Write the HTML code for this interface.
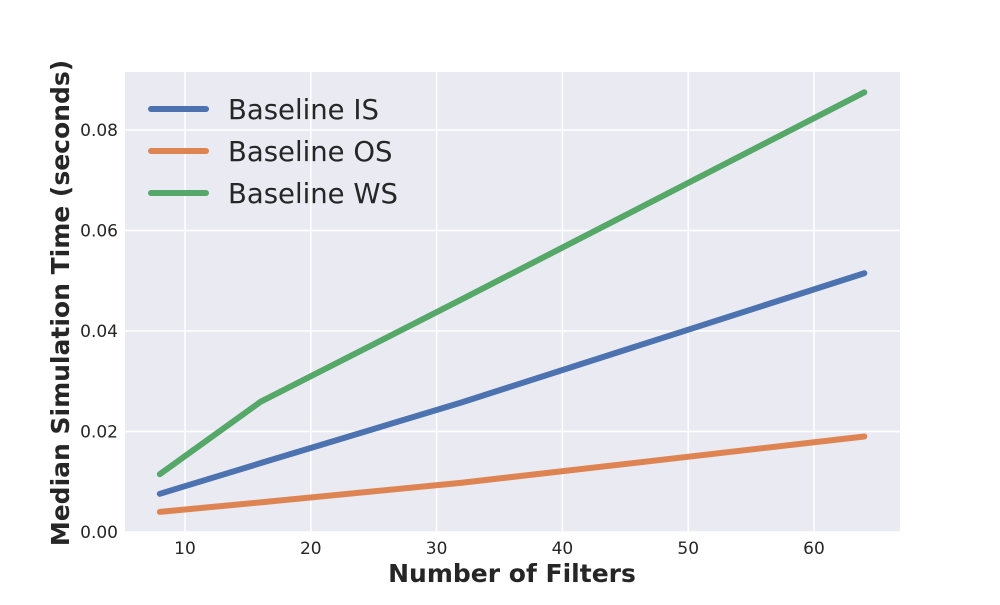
<!DOCTYPE html>
<html><head><meta charset="utf-8"><style>
body{margin:0;background:#fff;font-family:"Liberation Sans","DejaVu Sans",sans-serif}
</style></head><body>
<svg width="1000" height="600" id="c" font-family="DejaVu Sans, Liberation Sans, sans-serif"></svg>
<script>
const filters=[8,16,32,64];
const seriesIS=[0.0076,0.0137,0.0258,0.0515];
const seriesOS=[0.0040,0.0059,0.0098,0.0190];
const seriesWS=[0.0115,0.0259,0.0463,0.0875];
const xTicks=[10,20,30,40,50,60];
const yTicks=[0,0.02,0.04,0.06,0.08];
const yLabels=["0.00","0.02","0.04","0.06","0.08"];
const L=125,R=900,T=72,B=532;
const X=v=>185+(v-10)*12.58;
const Y=v=>532-v*5025;
const s=document.getElementById('c');
const NS="http://www.w3.org/2000/svg";
function mk(t,a,p){const e=document.createElementNS(NS,t);for(const k in a)e.setAttribute(k,a[k]);(p||s).appendChild(e);return e;}
let e=mk('rect',{x:L,y:T,width:R-L,height:B-T,fill:'#eaeaf2'});


xTicks.forEach(v=>{let g=mk('line',{x1:X(v),x2:X(v),y1:T,y2:B,stroke:'#fff','stroke-width':1.5});


let t=mk('text',{x:X(v),y:554,'text-anchor':'middle','font-size':17,fill:'#262626'});t.textContent=v;

});
yTicks.forEach((v,i)=>{let g=mk('line',{x1:L,x2:R,y1:Y(v),y2:Y(v),stroke:'#fff','stroke-width':1.5});


let t=mk('text',{x:118,y:Y(v)+6,'text-anchor':'end','font-size':17,fill:'#262626'});t.textContent=yLabels[i];

});
const series=[["Baseline IS",seriesIS,"#4c72b0"],["Baseline OS",seriesOS,"#dd8452"],["Baseline WS",seriesWS,"#55a868"]];
series.forEach(([n,d,c],i)=>{let p=mk('polyline',{points:filters.map((f,j)=>X(f)+','+Y(d[j])).join(' '),fill:'none',stroke:c,'stroke-width':6,'stroke-linecap':'round','stroke-linejoin':'round'});


let ly=109+i*42;
let l=mk('line',{x1:151,x2:206,y1:ly,y2:ly,stroke:c,'stroke-width':6,'stroke-linecap':'round'});


let t=mk('text',{x:228,y:ly+10,'font-size':27.5,fill:'#262626'});t.textContent=n;

});
let xt=mk('text',{x:512,y:582,'text-anchor':'middle','font-size':25,'font-weight':'bold',fill:'#262626'});xt.textContent="Number of Filters";


let yt=mk('text',{x:0,y:0,transform:'translate(69,303) rotate(-90)','text-anchor':'middle','font-size':25,'font-weight':'bold',fill:'#262626'});yt.textContent="Median Simulation Time (seconds)";


</script>
</body></html>
